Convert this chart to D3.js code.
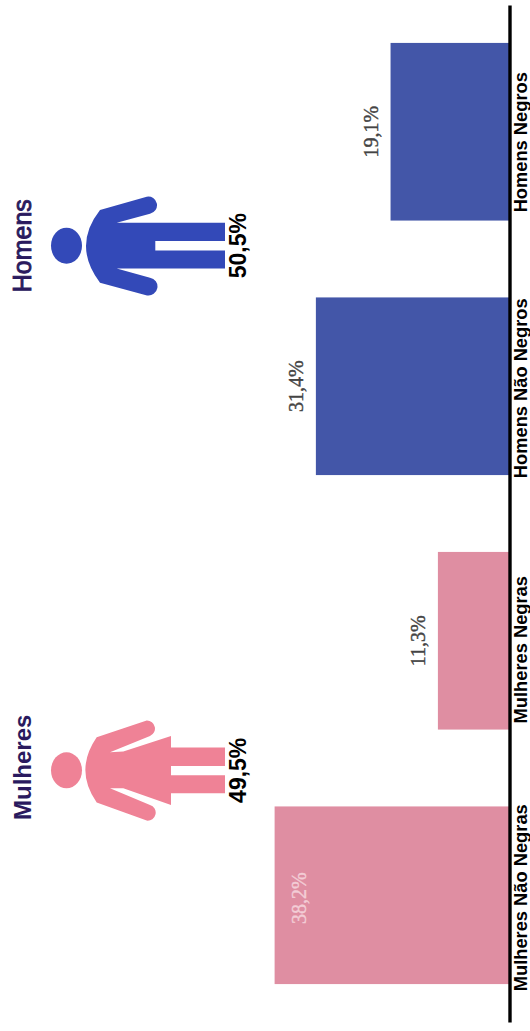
<!DOCTYPE html>
<html>
<head>
<meta charset="utf-8">
<script src="https://cdn.jsdelivr.net/npm/d3@7"></script>
<style>
  html, body { margin: 0; padding: 0; background: #fff; overflow: hidden; }
  svg { display: block; font-family: "Liberation Sans", Arial, sans-serif; }
</style>
</head>
<body>
<svg width="530" height="1031"></svg>
<script>
// values
const categories = ["Homens Negros", "Homens Não Negros", "Mulheres Negras", "Mulheres Não Negras"];
const shares = [19.1, 31.4, 11.3, 38.2];
const groups = ["Homens", "Mulheres"];
const groupShares = [50.5, 49.5];

const fmt = v => v.toFixed(1).replace(".", ",") + "%";

const svg = d3.select("svg");
const axisX = 509.5;

const y = d3.scaleBand()
  .domain(categories)
  .range([5, 1022])
  .paddingInner(0.302)
  .paddingOuter(0.149);

// bars grow leftwards from the axis
const x = d3.scaleLinear().domain([0, 38.2]).range([506.5, 274.6]);

const barColor = d => d.startsWith("Homens") ? "#4356a8" : "#df8ea2";

svg.append("g")
  .selectAll("rect")
  .data(categories)
  .join("rect")
  .attr("x", d => x(shares[categories.indexOf(d)]))
  .attr("y", d => y(d))
  .attr("width", d => axisX - x(shares[categories.indexOf(d)]))
  .attr("height", y.bandwidth())
  .attr("fill", barColor);

// value labels, the largest one sits inside its bar
svg.append("g")
  .selectAll("text")
  .data(categories)
  .join("text")
  .attr("transform", d => {
    const v = shares[categories.indexOf(d)];
    const bx = v > 35 ? x(v) + 31.5 : x(v) - 13;
    return `translate(${bx},${y(d) + y.bandwidth() / 2 + (v > 35 ? 3 : 0)}) rotate(-90)`;
  })
  .attr("text-anchor", "middle")
  .attr("font-family", "'Liberation Serif', serif")
  .attr("font-size", 20)
  .attr("fill", d => shares[categories.indexOf(d)] > 35 ? "#f3cdd6" : "#444")
  .attr("stroke", d => shares[categories.indexOf(d)] > 35 ? "#f3cdd6" : "#444")
  .attr("stroke-width", 0.4)
  .text(d => fmt(shares[categories.indexOf(d)]));

// axis with the category labels on its right
const labelNudge = [10.5, 2, 9, 2.5];
const axis = svg.append("g")
  .attr("transform", `translate(${axisX},0)`)
  .call(d3.axisRight(y).tickSize(0).tickPadding(0));

axis.select(".domain").attr("stroke", "#000").attr("stroke-width", 3.4);
axis.selectAll(".tick text")
  .attr("x", null).attr("dy", null)
  .attr("transform", (d, i) => `translate(17.5,${labelNudge[i]}) rotate(-90)`)
  .attr("text-anchor", "middle")
  .attr("font-family", "'Liberation Sans', Arial, sans-serif")
  .attr("font-size", 18.3)
  .attr("font-weight", "bold")
  .attr("fill", "#000");

// pictograms, drawn around the middle of the figure
const manBody = "M100,-35.7 L146.7,-49 A8,8 0 0 1 150,-32 L116.7,-23 L225,-23 L225,-4.7 L155.3,-4.7 L155.3,4.7 L225,4.7 L225,22.7 L116.7,22.7 L150,32 A8,8 0 0 1 147,49.7 L100,37 Q72,0 100,-35.7 Z";
const womanBody = "M96.7,-33 L146.7,-49.7 A8,8 0 0 1 150,-34.3 L110,-18 L123.3,-18.7 L171,-34.3 L171,-22.7 L225,-22.7 L225,-4.3 L171,-4.3 L171,5 L225,5 L225,23 L171,23 L171,34.7 L123.3,18 L110,18 L150,34.7 A8,8 0 0 1 146.7,50.3 L96.7,32.3 Q74,0 96.7,-33 Z";

const figures = d3.scalePoint().domain(groups).range([245.7, 770.3]);
const figureColor = { Homens: "#3349b8", Mulheres: "#ef8296" };
const figureBody = { Homens: manBody, Mulheres: womanBody };
const titleNudge = { Homens: 0, Mulheres: -3 };

const fig = svg.append("g")
  .selectAll("g")
  .data(groups)
  .join("g")
  .attr("transform", d => `translate(0,${figures(d)})`);

fig.append("ellipse")
  .attr("cx", 66.5).attr("cy", 0)
  .attr("rx", 15.5).attr("ry", 18)
  .attr("fill", d => figureColor[d]);

fig.append("path")
  .attr("d", d => figureBody[d])
  .attr("fill", d => figureColor[d]);

fig.append("text")
  .attr("transform", d => `translate(30.5,${titleNudge[d]}) rotate(-90)`)
  .attr("text-anchor", "middle")
  .attr("font-size", d => d === "Mulheres" ? 24 : 25)
  .attr("font-weight", d => d === "Mulheres" ? "bold" : "normal")
  .attr("stroke", d => d === "Mulheres" ? "none" : "#2a1a5e")
  .attr("stroke-width", 0.9)
  .attr("fill", "#2a1a5e")
  .text(d => d);

fig.append("text")
  .attr("transform", "translate(246,0) rotate(-90)")
  .attr("text-anchor", "middle")
  .attr("font-size", 23)
  .attr("font-weight", "bold")
  .attr("fill", "#000")
  .text((d, i) => fmt(groupShares[i]));
</script>
</body>
</html>
